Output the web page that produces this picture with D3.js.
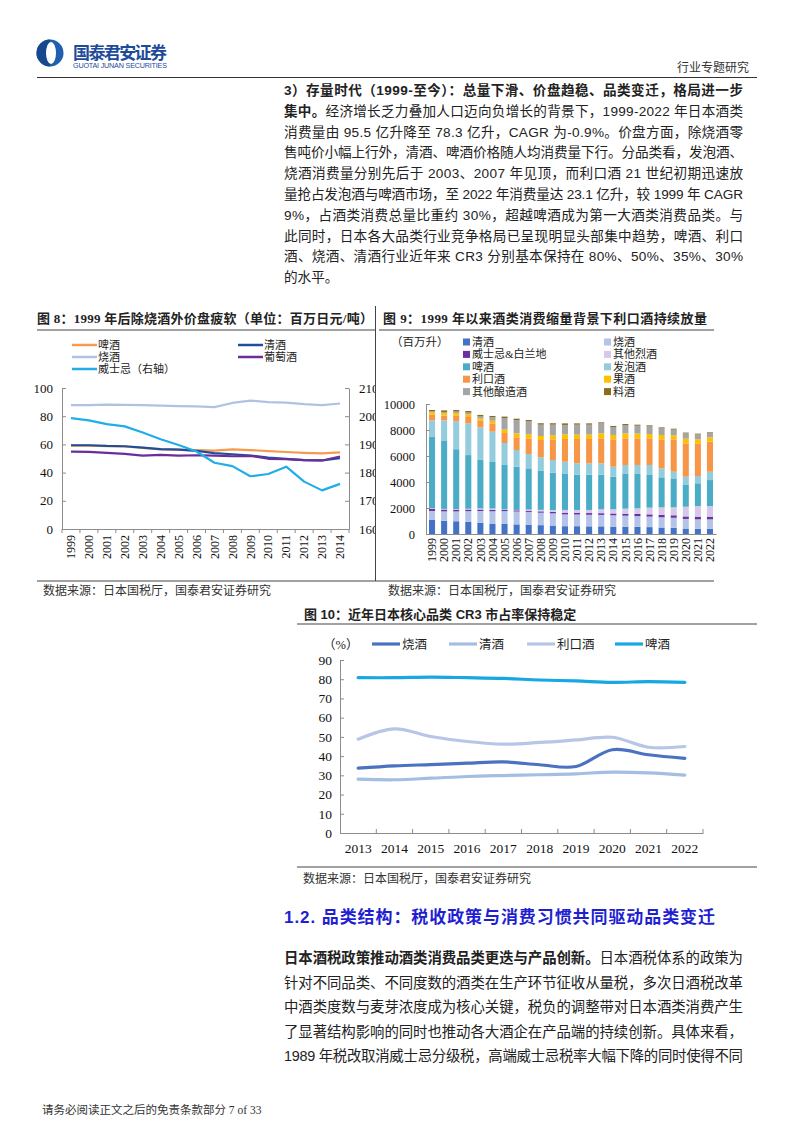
<!DOCTYPE html>
<html><head><meta charset="utf-8">
<script src="https://cdn.jsdelivr.net/npm/d3@7"></script>
<style>
body{margin:0;background:#fff;}
svg{display:block;}
</style></head><body>
<svg id="page" width="802" height="1133"></svg>
<script>
// ---------- DATA ----------
// Figure 8: price per ton (million yen / ton)
const years8 = [1999,2000,2001,2002,2003,2004,2005,2006,2007,2008,2009,2010,2011,2012,2013,2014];
const beerPrice8    = [59.2,59.2,58.7,58.5,57.5,56.4,56.4,56.0,55.6,56.5,56.0,55.2,54.6,54.0,53.6,54.3];
const sakePrice8    = [59.4,59.4,58.9,58.7,57.7,56.6,56.3,55.4,53.8,53.0,52.1,50.7,49.8,48.8,48.6,50.2];
const shochuPrice8  = [87.8,87.8,88.2,88.0,87.8,87.5,87.2,87.0,86.4,89.4,91.0,90.0,89.6,88.5,87.8,89.0];
const winePrice8    = [54.9,54.7,54.0,53.3,52.1,52.6,52.1,52.3,52.1,51.6,51.9,49.8,49.5,48.8,48.6,51.4];
const whiskyPrice8  = [199.3,198.5,197.2,196.4,194.2,191.8,189.8,187.5,183.5,182.3,178.7,179.5,182.1,176.8,173.7,176.0];
const leftTicks8 = [0,20,40,60,80,100];
const rightTicks8 = [160,170,180,190,200,210];

// Figure 9: consumption volume (million litres)
const years9 = [1999,2000,2001,2002,2003,2004,2005,2006,2007,2008,2009,2010,2011,2012,2013,2014,2015,2016,2017,2018,2019,2020,2021,2022];
const sake9         = [1080,1020,980,940,870,800,770,740,720,680,650,600,600,590,590,570,560,550,530,500,480,420,400,410];
const shochu9       = [690,720,760,820,900,950,990,990,980,960,940,910,900,890,880,870,850,830,810,790,770,740,730,720];
const whisky9       = [150,140,130,120,110,100,90,90,90,100,110,130,130,130,130,140,150,160,170,180,190,190,200,200];
const otherSpirits9 = [50,50,50,60,90,110,40,30,90,120,140,210,220,240,300,320,390,430,520,580,610,750,820,820];
const beer9         = [5530,5270,4600,4130,3730,3580,3420,3330,3170,2990,2880,2770,2710,2710,2660,2510,2670,2650,2510,2310,2230,1670,1750,2000];
const happoshu9     = [1230,1530,2150,2450,2500,2330,1690,1280,1100,1050,970,940,880,880,880,770,690,690,770,690,510,640,560,640];
const liqueur9      = [440,380,420,480,500,640,770,980,1200,1330,1590,1750,1870,1870,1920,2100,2050,2050,2050,2230,2490,2560,2510,2310];
const fruit9        = [190,190,200,200,190,200,260,300,320,310,310,360,330,340,380,340,380,360,330,340,310,360,310,340];
const otherBrew9    = [70,90,130,140,160,260,890,1020,990,870,820,720,770,760,770,610,640,610,590,500,440,410,380,330];
const mirin9        = [110,120,120,120,110,110,110,110,110,110,110,120,100,100,80,80,80,80,80,80,70,60,60,50];
const ticks9 = [0,2000,4000,6000,8000,10000];

// Figure 10: CR3 (%)
const years10 = [2013,2014,2015,2016,2017,2018,2019,2020,2021,2022];
const cr3Shochu  = [33.7,34.9,35.6,36.3,37.0,35.5,34.6,43.3,40.7,38.8];
const cr3Sake    = [28.0,27.7,28.5,29.4,29.9,30.3,30.8,31.7,31.3,30.1];
const cr3Liqueur = [48.8,54.2,50.2,47.6,46.2,47.1,48.4,49.8,44.6,45.0];
const cr3Beer    = [80.8,80.8,81.1,80.8,80.4,79.6,79.1,78.4,78.7,78.4];
const ticks10 = [0,10,20,30,40,50,60,70,80,90];

// ---------- SETUP ----------
const SANS = '"Liberation Sans", Arial, "Noto Sans CJK SC", sans-serif';
const SERIF = '"Liberation Serif", "Times New Roman", "Noto Sans CJK SC", serif';
const svg = d3.select('#page');
svg.append('rect').attr('width',802).attr('height',1133).attr('fill','#fff');
const defs = svg.append('defs');
defs.append('clipPath').attr('id','clip8').append('rect').attr('x',0).attr('y',300).attr('width',375).attr('height',290);

function txt(g,x,y,s,o={}){
  const t = g.append('text').attr('x',x).attr('y',y).text(s)
    .style('font-family',o.ff||SANS).style('font-size',(o.fs||12)+'px')
    .attr('fill',o.fill||'#222').style('font-weight',o.fw||'normal');
  if(o.anchor) t.attr('text-anchor',o.anchor);
  if(o.tl){ t.attr('textLength',o.tl).attr('lengthAdjust','spacing'); }
  return t;
}
function hline(x1,x2,y,c='#333',w=1){ svg.append('line').attr('x1',x1).attr('x2',x2).attr('y1',y).attr('y2',y).attr('stroke',c).attr('stroke-width',w); }

// ---------- HEADER ----------
const hdr = svg.append('g');
hdr.append('circle').attr('cx',50).attr('cy',53).attr('r',13.5).attr('fill','#1f5fae');
hdr.append('path').attr('d','M50,39.5 A13.5,13.5 0 0,0 50,66.5 Z').attr('fill','#16478f');
hdr.append('ellipse').attr('cx',51).attr('cy',53).attr('rx',5).attr('ry',11).attr('fill','#fff');
txt(hdr,73,59,'国泰君安证券',{fs:17,fw:'bold',fill:'#1d4b99',tl:94});
txt(hdr,73,68,'GUOTAI JUNAN SECURITIES',{fs:7.2,fill:'#1d4b99',tl:94});
txt(hdr,749,72,'行业专题研究',{fs:12,fill:'#333',anchor:'end'});
hline(37,757,77.5,'#333',1.2);

// ---------- TOP PARAGRAPH ----------
const para = [
 ['3）存量时代（1999-至今）：总量下滑、价盘趋稳、品类变迁，格局进一步',''],
 ['集中。','经济增长乏力叠加人口迈向负增长的背景下，1999-2022 年日本酒类'],
 ['','消费量由 95.5 亿升降至 78.3 亿升，CAGR 为-0.9%。价盘方面，除烧酒零'],
 ['','售吨价小幅上行外，清酒、啤酒价格随人均消费量下行。分品类看，发泡酒、'],
 ['','烧酒消费量分别先后于 2003、2007 年见顶，而利口酒 21 世纪初期迅速放'],
 ['','量抢占发泡酒与啤酒市场，至 2022 年消费量达 23.1 亿升，较 1999 年 CAGR'],
 ['','9%，占酒类消费总量比重约 30%，超越啤酒成为第一大酒类消费品类。与'],
 ['','此同时，日本各大品类行业竞争格局已呈现明显头部集中趋势，啤酒、利口'],
 ['','酒、烧酒、清酒行业近年来 CR3 分别基本保持在 80%、50%、35%、30%'],
 ['','的水平。']
];
para.forEach((p,i)=>{
  const t = svg.append('text').attr('x',284).attr('y',95+i*20.8)
    .style('font-family',SANS).style('font-size','13.6px').attr('fill','#222');
  if(p[0]) t.append('tspan').style('font-weight','bold').text(p[0]);
  if(p[1]) t.append('tspan').text(p[1]);
  if(i<para.length-1) t.attr('textLength',459).attr('lengthAdjust','spacing');
});

// ---------- FIGURE 8 ----------
txt(svg,37,323,'图 8：1999 年后除烧酒外价盘疲软（单位：百万日元/吨）',{ff:SERIF,fs:13,fw:'bold',fill:'#222',tl:336});
hline(37,375,330,'#444',1);
hline(379,714,330,'#444',1);
svg.append('line').attr('x1',375.5).attr('x2',375.5).attr('y1',306).attr('y2',581).attr('stroke','#444');
hline(37,714,581,'#444',1);

const c8 = svg.append('g').attr('clip-path','url(#clip8)');
const x8 = d3.scaleBand().domain(years8).range([62,349]);
const y8L = d3.scaleLinear().domain([0,100]).range([529,388]);
const y8R = d3.scaleLinear().domain([160,210]).range([529,388]);
function styleAxis(g,fs,ff){
  g.select('.domain').attr('stroke','#8c8c8c');
  g.selectAll('.tick line').attr('stroke','#8c8c8c');
  g.selectAll('text').style('font-family',ff||SERIF).style('font-size',fs+'px').attr('fill','#111');
}
c8.append('g').attr('transform','translate(62,0)')
  .call(d3.axisLeft(y8L).tickValues(leftTicks8).tickSizeInner(-4).tickSizeOuter(0).tickPadding(9))
  .call(g=>styleAxis(g,13));
c8.append('g').attr('transform','translate(349,0)')
  .call(d3.axisRight(y8R).tickValues(rightTicks8).tickSizeInner(-4).tickSizeOuter(0).tickPadding(10))
  .call(g=>styleAxis(g,13));
const xa8 = c8.append('g').attr('transform','translate(0,529)')
  .call(d3.axisBottom(x8).tickSize(0).tickPadding(0))
  .call(g=>styleAxis(g,12));
xa8.selectAll('text').attr('transform','rotate(-90)').attr('x',-6).attr('y',0).attr('dy','0.35em').style('text-anchor','end');
years8.concat([null]).forEach((yr)=>{
  const bx = yr===null ? x8.range()[1] : x8(yr);
  c8.append('line').attr('x1',bx).attr('x2',bx).attr('y1',529).attr('y2',533).attr('stroke','#8c8c8c');
});
const cx8 = d=>x8(d)+x8.bandwidth()/2;
const line8 = (vals,ys)=>d3.line().x((d,i)=>cx8(years8[i])).y(d=>ys(d))(vals);
const series8 = [
  {v:shochuPrice8,c:'#afc2e2',ys:y8L},
  {v:beerPrice8,c:'#f59a4f',ys:y8L},
  {v:sakePrice8,c:'#1f4f9c',ys:y8L},
  {v:winePrice8,c:'#6a2d9a',ys:y8L},
  {v:whiskyPrice8,c:'#21ade6',ys:y8R}
];
series8.forEach(s=>{
  c8.append('path').attr('d',line8(s.v,s.ys)).attr('fill','none').attr('stroke',s.c).attr('stroke-width',2.2).attr('stroke-linejoin','round');
});
const leg8 = [
  {t:'啤酒',c:'#f59a4f',x:72,y:345},{t:'清酒',c:'#1f4f9c',x:238,y:345},
  {t:'烧酒',c:'#afc2e2',x:72,y:357},{t:'葡萄酒',c:'#6a2d9a',x:238,y:357},
  {t:'威士忌（右轴）',c:'#21ade6',x:72,y:369}
];
leg8.forEach(l=>{
  svg.append('line').attr('x1',l.x).attr('x2',l.x+25).attr('y1',l.y).attr('y2',l.y).attr('stroke',l.c).attr('stroke-width',2.5);
  txt(svg,l.x+26,l.y+4,l.t,{ff:SERIF,fs:11,fill:'#222'});
});
txt(svg,43,595,'数据来源：日本国税厅，国泰君安证券研究',{ff:SERIF,fs:12,fill:'#333'});

// ---------- FIGURE 9 ----------
txt(svg,383,323,'图 9：1999 年以来酒类消费缩量背景下利口酒持续放量',{ff:SERIF,fs:13,fw:'bold',fill:'#222',tl:324});
const keys9 = ['清酒','烧酒','威士忌&白兰地','其他烈酒','啤酒','发泡酒','利口酒','果酒','其他酿造酒','料酒'];
const arrs9 = [sake9,shochu9,whisky9,otherSpirits9,beer9,happoshu9,liqueur9,fruit9,otherBrew9,mirin9];
const cols9 = ['#4472c4','#b4c4e8','#6b2fa0','#d5c8e8','#4bacc6','#93cddd','#f79646','#ffc000','#a5a5a5','#8b6b22'];
const rows9 = years9.map((yr,i)=>{ const r={year:yr}; keys9.forEach((k,j)=>r[k]=arrs9[j][i]); return r; });
const stack9 = d3.stack().keys(keys9)(rows9);
const x9 = d3.scaleBand().domain(years9).range([426,716]).paddingInner(0.5).paddingOuter(0.25);
const y9 = d3.scaleLinear().domain([0,10000]).range([534,404]);
const c9 = svg.append('g');
stack9.forEach((layer,j)=>{
  c9.append('g').attr('fill',cols9[j]).selectAll('rect').data(layer).join('rect')
    .attr('x',d=>x9(d.data.year)).attr('width',x9.bandwidth())
    .attr('y',d=>y9(d[1])).attr('height',d=>y9(d[0])-y9(d[1]));
});
c9.append('g').attr('transform','translate(426,0)')
  .call(d3.axisLeft(y9).tickValues(ticks9).tickFormat(d3.format('d')).tickSizeInner(-4).tickSizeOuter(0).tickPadding(11))
  .call(g=>styleAxis(g,12.5));
const xa9 = c9.append('g').attr('transform','translate(0,534)')
  .call(d3.axisBottom(x9).tickSize(0).tickPadding(0))
  .call(g=>styleAxis(g,12));
xa9.selectAll('text').attr('transform','rotate(-90)').attr('x',-4).attr('y',0).attr('dy','0.35em').style('text-anchor','end');
txt(svg,391,346,'（百万升）',{ff:SERIF,fs:11.5,fill:'#222'});
keys9.forEach((k,j)=>{
  const col = j%2, row = Math.floor(j/2);
  const lx = col===0?463:604, ly = 342+row*12.4;
  svg.append('rect').attr('x',lx).attr('y',ly-3.5).attr('width',7).attr('height',7).attr('fill',cols9[j]);
  txt(svg,lx+9,ly+4,k,{ff:SERIF,fs:11,fill:'#222'});
});
txt(svg,388,595,'数据来源：日本国税厅，国泰君安证券研究',{ff:SERIF,fs:12,fill:'#333'});

// ---------- FIGURE 10 ----------
txt(svg,304,619,'图 10：近年日本核心品类 CR3 市占率保持稳定',{fs:13,fw:'bold',fill:'#222'});
hline(297,757,624,'#444',1);
hline(297,757,867,'#444',1);
const x10 = d3.scaleBand().domain(years10).range([340,703]);
const y10 = d3.scaleLinear().domain([0,90]).range([833,660]);
const c10 = svg.append('g');
c10.append('g').attr('transform','translate(340,0)')
  .call(d3.axisLeft(y10).tickValues(ticks10).tickSizeInner(-4).tickSizeOuter(0).tickPadding(8))
  .call(g=>styleAxis(g,13.5));
c10.append('g').attr('transform','translate(0,833)')
  .call(d3.axisBottom(x10).tickSize(0).tickPadding(10))
  .call(g=>styleAxis(g,13.5));
years10.concat([null]).forEach(yr=>{
  if(yr===years10[0]) return;
  const bx = yr===null ? x10.range()[1] : x10(yr);
  c10.append('line').attr('x1',bx).attr('x2',bx).attr('y1',833).attr('y2',829).attr('stroke','#8c8c8c');
});
const cx10 = d=>x10(d)+x10.bandwidth()/2;
const smooth = d3.line().curve(d3.curveCardinal.tension(0)).x((d,i)=>cx10(years10[i])).y(d=>y10(d));
const series10 = [
  {t:'烧酒',v:cr3Shochu,c:'#4a72c0'},
  {t:'清酒',v:cr3Sake,c:'#a3bee2'},
  {t:'利口酒',v:cr3Liqueur,c:'#b7c5e6'},
  {t:'啤酒',v:cr3Beer,c:'#17a8e3'}
];
[series10[1],series10[2],series10[0],series10[3]].forEach(s=>{
  c10.append('path').attr('d',smooth(s.v)).attr('fill','none').attr('stroke',s.c).attr('stroke-width',3.2).attr('stroke-linecap','round');
});
txt(svg,323,649,'（%）',{ff:SERIF,fs:12.5,fill:'#222'});
const legX10 = [372,449,527,615];
series10.forEach((s,i)=>{
  svg.append('line').attr('x1',legX10[i]).attr('x2',legX10[i]+28).attr('y1',644).attr('y2',644).attr('stroke',s.c).attr('stroke-width',3.2);
  txt(svg,legX10[i]+30,649,s.t,{ff:SERIF,fs:12.5,fill:'#222'});
});
txt(svg,303,883,'数据来源：日本国税厅，国泰君安证券研究',{ff:SERIF,fs:12,fill:'#333'});

// ---------- SECTION HEADING & PARAGRAPH ----------
txt(svg,284,923,'1.2.  品类结构：税收政策与消费习惯共同驱动品类变迁',{fs:17,fw:'bold',fill:'#1f1fd1',tl:431});
const para2 = [
 ['日本酒税政策推动酒类消费品类更迭与产品创新。','日本酒税体系的政策为'],
 ['','针对不同品类、不同度数的酒类在生产环节征收从量税，多次日酒税改革'],
 ['','中酒类度数与麦芽浓度成为核心关键，税负的调整带对日本酒类消费产生'],
 ['','了显著结构影响的同时也推动各大酒企在产品端的持续创新。具体来看，'],
 ['','1989 年税改取消威士忌分级税，高端威士忌税率大幅下降的同时使得不同']
];
para2.forEach((p,i)=>{
  const t = svg.append('text').attr('x',284).attr('y',963+i*24.6)
    .style('font-family',SANS).style('font-size','14.4px').attr('fill','#222')
    .attr('textLength',459).attr('lengthAdjust','spacing');
  if(p[0]) t.append('tspan').style('font-weight','bold').text(p[0]);
  if(p[1]) t.append('tspan').text(p[1]);
});
txt(svg,42,1114,'请务必阅读正文之后的免责条款部分 7 of 33',{ff:SERIF,fs:11.5,fill:'#333'});
</script>
</body></html>
